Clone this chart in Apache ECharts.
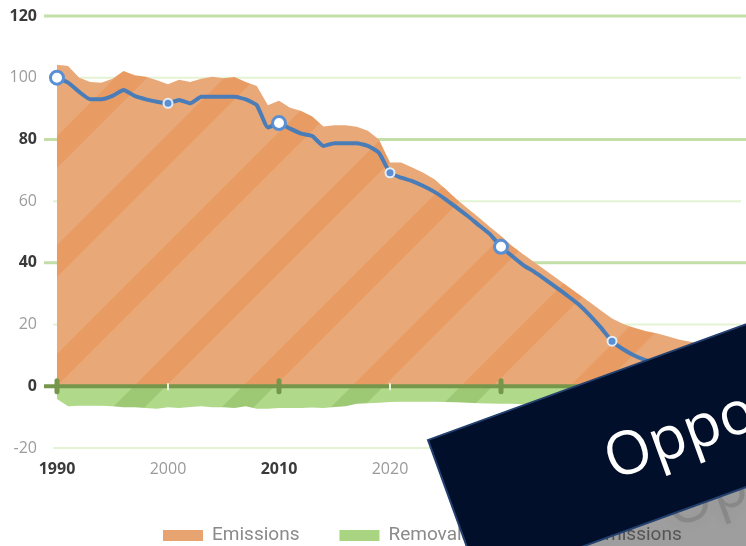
<!DOCTYPE html>
<html>
<head>
<meta charset="utf-8">
<script src="https://cdn.jsdelivr.net/npm/echarts@6/dist/echarts.min.js"></script>
<style>
  html, body { margin: 0; padding: 0; background: #fff; }
  #main { width: 746px; height: 546px; }
</style>
</head>
<body>
<div id="main"></div>
<script>
  var years = [1990, 1991, 1992, 1993, 1994, 1995, 1996, 1997, 1998, 1999,
               2000, 2001, 2002, 2003, 2004, 2005, 2006, 2007, 2008, 2009,
               2010, 2011, 2012, 2013, 2014, 2015, 2016, 2017, 2018, 2019,
               2020, 2021, 2022, 2023, 2024, 2025, 2026, 2027, 2028, 2029,
               2030, 2031, 2032, 2033, 2034, 2035, 2036, 2037, 2038, 2039,
               2040, 2041, 2042, 2043, 2044, 2045, 2046, 2047, 2048, 2049, 2050];
  var emissions = [104.2, 103.8, 100, 98.6, 98.4, 99.7, 102.2, 100.8, 100.3, 99.2,
                   97.9, 99.3, 98.6, 99.7, 100.3, 99.8, 100.2, 98.6, 97.3, 91.1,
                   92.5, 90.3, 89.2, 87.4, 84.2, 84.6, 84.6, 84.1, 82.8, 80,
                   72.5, 72.5, 70.9, 69.2, 67.1, 63.9, 60.6, 57.6, 54.7, 51.6,
                   48.7, 45.5, 42.8, 40.2, 37.6, 35, 32.4, 29.8, 27.2, 24.6,
                   22, 20.2, 19, 17.9, 17.2, 16.2, 15.2, 14.4, 13.9, 13.4, 13];
  var removals = [-4.1, -6.5, -6.3, -6.3, -6.3, -6.5, -6.8, -6.8, -7, -7.3,
                  -6.8, -7, -6.7, -6.5, -6.8, -6.8, -7, -6.5, -7.3, -7.3,
                  -7, -7, -7, -6.9, -7, -6.7, -6.5, -5.7, -5.5, -5.3,
                  -5.1, -5, -5, -5, -5, -5.1, -5.2, -5.3, -5.5, -5.6,
                  -5.7, -5.7, -5.8, -5.8, -5.9, -6, -6, -6.1, -6.2, -6.2,
                  -6.3, -6.3, -6.4, -6.4, -6.5, -6.5, -6.5, -6.6, -6.6, -6.6, -6.7];
  var netEmissions = [100, 98.4, 95.4, 93, 93, 94.1, 96, 94.1, 93, 92.2,
                      91.7, 92.8, 91.7, 93.8, 93.8, 93.8, 93.8, 93, 91.1, 83.9,
                      85.3, 83.5, 81.9, 81.1, 77.9, 78.8, 78.8, 78.8, 77.9, 75.7,
                      69.2, 67.6, 66.5, 64.9, 63, 60.6, 57.9, 55.2, 52.2, 49.3,
                      45.2, 42.2, 39.3, 37.1, 34.6, 32, 29.3, 26.5, 23, 19,
                      14.6, 12, 10, 8.5, 7.3, 6.2, 5.3, 4.6, 4, 3.5, 3];
  var decadeYears = [1990, 2000, 2010, 2020, 2030, 2040, 2050];
  var yTicks = [-20, 20, 40, 60, 80, 100, 120];
  var xMin = 1988.83, xMax = 2052.07;
  var fontTxt = '"Open Sans", "Noto Sans", sans-serif';
  var fontLegend = 'Roboto, "Noto Sans", sans-serif';

  // diagonal stripes as a repeat pattern
  function stripes(base, dark) {
    var P = 109, a = 84, w = 32;
    var cv = document.createElement('canvas');
    cv.width = P; cv.height = P;
    var g = cv.getContext('2d');
    g.fillStyle = base;
    g.fillRect(0, 0, P, P);
    g.fillStyle = dark;
    for (var k = -1; k <= 2; k++) {
      var c1 = a + k * P, c2 = c1 + w;
      g.beginPath();
      g.moveTo(c1, 0); g.lineTo(c2, 0); g.lineTo(c2 - P, P); g.lineTo(c1 - P, P);
      g.closePath();
      g.fill();
    }
    return cv;
  }

  function pairs(vals) {
    return years.map(function (y, i) { return [y, vals[i]]; });
  }

  var netData = years.map(function (y, i) {
    if ((y - 1990) % 10 !== 0) return [y, netEmissions[i]];
    var major = (y - 1990) % 20 === 0;
    return {
      value: [y, netEmissions[i]],
      symbol: 'circle',
      symbolSize: major ? 13 : 9,
      itemStyle: major
        ? { color: '#ffffff', borderColor: '#5b8fd4', borderWidth: 3 }
        : { color: '#5b8fd4', borderColor: '#e3ecf8', borderWidth: 2 }
    };
  });

  var chart = echarts.init(document.getElementById('main'));
  chart.setOption({
    animation: false,
    backgroundColor: '#ffffff',
    grid: { left: 44, right: 0, top: 16, bottom: 98 },
    xAxis: {
      type: 'value', min: xMin, max: xMax,
      axisLine: { show: false }, axisTick: { show: false }, splitLine: { show: false },
      axisLabel: {
        customValues: decadeYears,
        margin: 13,
        formatter: function (v) {
          return (v - 1990) % 20 === 0 ? '{b|' + v + '}' : '{l|' + v + '}';
        },
        rich: {
          b: { fontFamily: fontTxt, fontSize: 16, fontWeight: 'bold', color: '#3a3a3a' },
          l: { fontFamily: fontTxt, fontSize: 16, color: '#9a9a9a' }
        }
      }
    },
    yAxis: {
      type: 'value', min: -20, max: 120, interval: 20,
      axisLine: { show: false }, axisTick: { show: false }, splitLine: { show: false },
      axisLabel: {
        margin: 7,
        formatter: function (v) {
          return v % 40 === 0 ? '{b|' + v + '}' : '{l|' + v + '}';
        },
        rich: {
          b: { fontFamily: fontTxt, fontSize: 16, fontWeight: 'bold', color: '#3a3a3a' },
          l: { fontFamily: fontTxt, fontSize: 16, color: '#9c9c9c' }
        }
      }
    },
    legend: {
      left: 163, top: 526, padding: 0,
      icon: 'rect', itemWidth: 40, itemHeight: 11, itemGap: 40,
      textStyle: { fontFamily: fontLegend, fontSize: 19, color: '#8a8a8a', padding: [0, 0, 0, 4] },
      data: [
        { name: 'Emissions', itemStyle: { color: '#e8a470' } },
        { name: 'Removals', itemStyle: { color: '#a9d583' } },
        { name: 'Net emissions', itemStyle: { color: '#4a7db8' } }
      ]
    },
    series: [
      {
        name: 'gridlines', type: 'custom', z: 0, silent: true,
        data: yTicks.map(function (v) { return [xMin, v]; }),
        renderItem: function (params, api) {
          var v = api.value(1);
          var bold = v % 40 === 0;
          var p0 = api.coord([xMin, v]);
          var p1 = api.coord([xMax, v]);
          return {
            type: 'line',
            shape: { x1: p0[0] + (bold ? 0 : 9), y1: p0[1], x2: p1[0] - (bold ? 0 : 5), y2: p0[1] },
            style: { stroke: bold ? '#c4dea8' : '#e3f3d3', lineWidth: bold ? 3 : 2 }
          };
        }
      },
      {
        name: 'Emissions', type: 'line', z: 2,
        data: pairs(emissions),
        symbol: 'none',
        itemStyle: { color: '#e8a470' },
        lineStyle: { width: 0 },
        areaStyle: { color: { image: stripes('#e8a877', '#e89b63'), repeat: 'repeat' }, opacity: 1 }
      },
      {
        name: 'Removals', type: 'line', z: 2,
        data: pairs(removals),
        symbol: 'none',
        itemStyle: { color: '#a9d583' },
        lineStyle: { width: 0 },
        areaStyle: { color: { image: stripes('#b0d98a', '#9dc974'), repeat: 'repeat' }, opacity: 1 }
      },
      {
        name: 'axis', type: 'custom', z: 3, silent: true,
        data: decadeYears.map(function (y) { return [y, 0]; }),
        renderItem: function (params, api) {
          var yr = api.value(0);
          var p = api.coord([yr, 0]);
          var kids = [];
          if (params.dataIndex === 0) {
            var l = api.coord([xMin, 0]), r = api.coord([xMax, 0]);
            kids.push({ type: 'line', shape: { x1: l[0], y1: l[1], x2: r[0], y2: r[1] },
                        style: { stroke: '#76974b', lineWidth: 4 } });
          }
          if ((yr - 1990) % 20 === 0) {
            kids.push({ type: 'rect', shape: { x: p[0] - 2.5, y: p[1] - 8, width: 5, height: 16, r: 2.5 },
                        style: { fill: '#76974b' } });
          } else {
            kids.push({ type: 'line', shape: { x1: p[0], y1: p[1] - 3, x2: p[0], y2: p[1] + 4 },
                        style: { stroke: '#eef2d6', lineWidth: 2 } });
          }
          return { type: 'group', children: kids };
        }
      },
      {
        name: 'Net emissions', type: 'line', z: 4,
        data: netData,
        symbol: 'none', showSymbol: true,
        smooth: 0.15,
        itemStyle: { color: '#4a7db8' },
        lineStyle: { color: '#4a7db8', width: 4 }
      }
    ],
    graphic: [{
      type: 'group', x: 428, y: 440, rotation: 20 * Math.PI / 180,
      children: [
        { type: 'rect', z: 100, shape: { x: -20, y: 153, width: 700, height: 220 },
          style: { fill: 'rgba(0,0,0,0.38)' } },
        { type: 'text', z: 101, x: 200, y: 150,
          style: { text: 'Opportunities', fontFamily: fontTxt, fontSize: 60, verticalAlign: 'middle',
                   fill: 'rgba(0,0,0,0.12)', textShadowColor: 'rgba(0,0,0,0.5)', textShadowBlur: 14 } },
        { type: 'rect', z: 102, shape: { x: 0, y: 0, width: 700, height: 153 },
          style: { fill: '#010f2a', stroke: '#23406f', lineWidth: 2 } },
        { type: 'text', z: 103, x: 160, y: 84,
          style: { text: 'Opportunities', fontFamily: fontTxt, fontSize: 60, verticalAlign: 'middle', fill: '#ffffff' } }
      ]
    }]
  });
</script>
</body>
</html>
